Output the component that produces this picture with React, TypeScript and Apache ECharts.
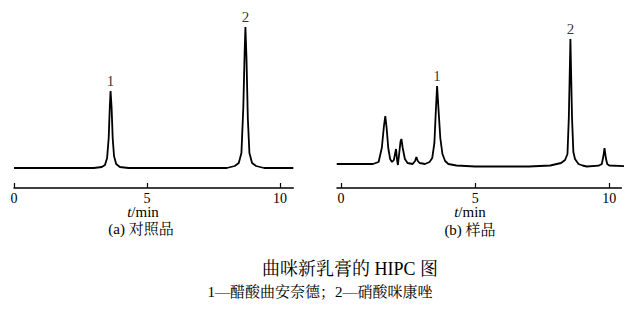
import React, { useEffect, useRef } from "react";
import * as echarts from "echarts";

const leftTime = [0, 3.0, 3.3, 3.42, 3.5, 3.56, 3.6, 3.63, 3.67, 3.71, 3.76, 3.84, 3.98, 4.3, 8.0, 8.3, 8.45, 8.55, 8.62, 8.67, 8.7, 8.74, 8.79, 8.85, 8.95, 9.1, 9.4, 10.5];
const leftSignal = [0, 0, 1, 3, 10, 30, 60, 77, 60, 30, 12, 4, 1, 0, 0, 2, 5, 15, 60, 115, 141, 110, 50, 15, 5, 2, 0, 0];

const rightTime = [-0.16, 1.19, 1.4, 1.52, 1.6, 1.65, 1.7, 1.76, 1.83, 1.9, 1.97, 2.02, 2.05, 2.09, 2.12, 2.17, 2.22, 2.25, 2.3, 2.38, 2.48, 2.67, 2.76, 2.81, 2.86, 2.93, 3.13, 3.3, 3.4, 3.48, 3.53, 3.58, 3.63, 3.7, 3.78, 3.88, 4.0, 4.3, 5.0, 7.0, 7.8, 8.2, 8.35, 8.44, 8.49, 8.55, 8.61, 8.66, 8.72, 8.85, 9.0, 9.16, 9.6, 9.72, 9.78, 9.82, 9.87, 9.92, 10.0, 10.78];
const rightSignal = [4, 4, 6, 20, 42, 52, 40, 20, 9, 6, 8, 15, 19, 8, 3, 15, 27, 29, 20, 9, 5, 4, 7, 11, 7, 5, 4, 6, 10, 25, 55, 82, 60, 30, 14, 7, 4, 2.5, 1.5, 1.5, 2.5, 5, 8, 14, 50, 129, 50, 16, 9, 4, 2.5, 1.5, 2.3, 4, 12, 20, 10, 4, 2.5, 1.5];

const peakNames = ["1", "2"];
const leftPeakTime = [3.63, 8.7];
const leftPeakSignal = [77, 141];
const rightPeakTime = [3.58, 8.55];
const rightPeakSignal = [82, 129];

const xTicks = [0, 5, 10];

const FONT = "'Liberation Serif', 'Noto Serif CJK SC', 'Noto Sans CJK SC', serif";

function zip(a: number[], b: number[]) {
  return a.map((v, i) => [v, b[i]]);
}

function axisX(gridIndex: number, min: number, max: number) {
  return {
    type: "value",
    gridIndex,
    min,
    max,
    axisLine: { show: true, onZero: false, lineStyle: { color: "#000", width: 1.5 } },
    axisTick: { show: true, inside: true, length: 5, lineStyle: { color: "#000", width: 1.2 }, customValues: xTicks },
    axisLabel: { show: true, color: "#000", fontSize: 14, fontFamily: FONT, margin: 3, customValues: xTicks },
    splitLine: { show: false },
  };
}

function axisY(gridIndex: number) {
  return { type: "value", gridIndex, min: -20, max: 141, show: false };
}

function tMin(x: number) {
  return {
    type: "text",
    x,
    y: 212,
    style: {
      text: "{i|t}/min",
      align: "center",
      verticalAlign: "middle",
      fill: "#000",
      fontSize: 15,
      fontFamily: FONT,
      rich: {
        i: { fontStyle: "italic", fontSize: 15, fontFamily: FONT, fill: "#000" },
        n: { fontSize: 15, fontFamily: FONT, fill: "#000" },
      },
    },
  };
}

export default function App() {
  const ref = useRef<HTMLDivElement>(null);
  useEffect(() => {
    if (!ref.current) return;
    const chart = echarts.init(ref.current, null, { renderer: "svg" });
    const lineStyle = { color: "#000", width: 1.8 };
    const peakLabel = {
      show: true,
      position: "top",
      distance: 3,
      color: "#000",
      fontSize: 15,
      fontFamily: FONT,
      formatter: (p: any) => p.name,
    };
    chart.setOption({
      animation: false,
      backgroundColor: "#fff",
      color: ["#000"],
      grid: [
        { left: 14, top: 27, width: 279.3, height: 161 },
        { left: 337, top: 27, width: 284.4, height: 161 },
      ],
      xAxis: [axisX(0, 0, 10.5), axisX(1, -0.15, 10.45)],
      yAxis: [axisY(0), axisY(1)],
      series: [
        {
          type: "line",
          xAxisIndex: 0,
          yAxisIndex: 0,
          data: zip(leftTime, leftSignal),
          showSymbol: false,
          symbol: "none",
          clip: false,
          lineStyle,
        },
        {
          type: "line",
          xAxisIndex: 1,
          yAxisIndex: 1,
          data: zip(rightTime, rightSignal),
          showSymbol: false,
          symbol: "none",
          clip: false,
          lineStyle,
        },
        {
          type: "scatter",
          xAxisIndex: 0,
          yAxisIndex: 0,
          symbolSize: 0,
          itemStyle: { color: "#000" },
          data: leftPeakTime.map((t, i) => ({ name: peakNames[i], value: [t, leftPeakSignal[i]] })),
          label: peakLabel,
        },
        {
          type: "scatter",
          xAxisIndex: 1,
          yAxisIndex: 1,
          symbolSize: 0,
          itemStyle: { color: "#000" },
          data: rightPeakTime.map((t, i) => ({ name: peakNames[i], value: [t, rightPeakSignal[i]] })),
          label: peakLabel,
        },
      ],
      graphic: [
        tMin(143),
        tMin(470),
        {
          type: "text",
          x: 141,
          y: 229,
          style: { text: "(a) 对照品", align: "center", verticalAlign: "middle", fill: "#000", fontSize: 15, fontFamily: FONT },
        },
        {
          type: "text",
          x: 470,
          y: 230,
          style: { text: "(b) 样品", align: "center", verticalAlign: "middle", fill: "#000", fontSize: 15, fontFamily: FONT },
        },
        {
          type: "text",
          x: 350,
          y: 269,
          style: { text: "曲咪新乳膏的 HIPC 图", align: "center", verticalAlign: "middle", fill: "#000", fontSize: 18, fontFamily: FONT },
        },
        {
          type: "text",
          x: 320,
          y: 292,
          style: { text: "1—醋酸曲安奈德；2—硝酸咪康唑", align: "center", verticalAlign: "middle", fill: "#000", fontSize: 15, fontFamily: FONT },
        },
      ],
    });
    return () => chart.dispose();
  }, []);
  return <div ref={ref} style={{ position: "fixed", left: 0, top: 0, width: 639, height: 312 }} />;
}
